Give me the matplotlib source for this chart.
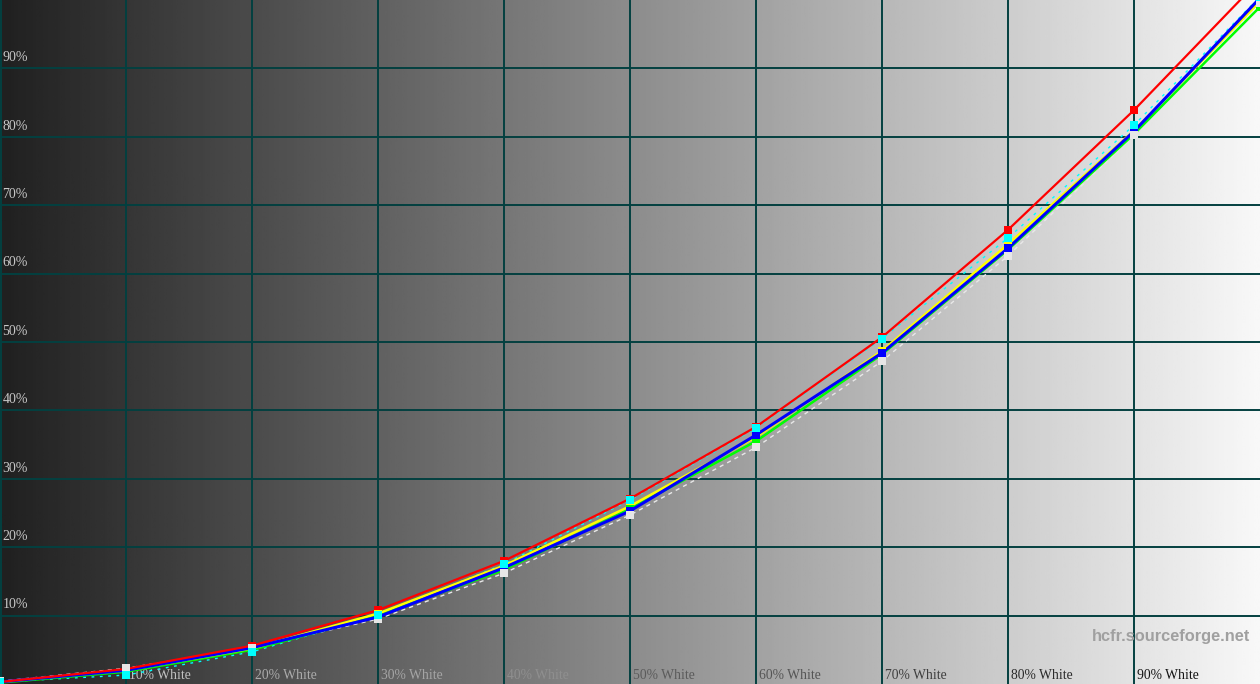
import numpy as np
import matplotlib
matplotlib.use("Agg")
import matplotlib.pyplot as plt

levels = [0, 10, 20, 30, 40, 50, 60, 70, 80, 90, 100]
x_labels = ["10% White", "20% White", "30% White", "40% White", "50% White",
            "60% White", "70% White", "80% White", "90% White"]
y_labels = ["10%", "20%", "30%", "40%", "50%", "60%", "70%", "80%", "90%"]

red    = [0.3, 2.2, 5.6, 10.8, 18.0, 27.1, 37.6, 50.7, 66.4, 83.9, 103.0]
yellow = [0.3, 2.0, 5.2, 10.3, 17.3, 26.0, 36.1, 48.7, 64.3, 80.9, 99.8]
green  = [0.2, 1.8, 5.0, 10.0, 16.7, 25.6, 35.5, 48.2, 63.5, 80.4, 99.0]
blue   = [0.3, 2.0, 5.3, 9.8, 17.0, 25.3, 36.4, 48.4, 63.7, 80.8, 100.3]
white  = [0.4, 2.3, 5.3, 9.5, 16.2, 24.7, 34.6, 47.2, 62.6, 80.2, 99.5]
cyan   = [0.3, 1.3, 4.7, 10.1, 17.5, 26.9, 37.4, 50.5, 65.2, 81.7, 100.5]

W, H, DPI = 1260, 684, 100
fig = plt.figure(figsize=(W / DPI, H / DPI), dpi=DPI)
ax = fig.add_axes([0, 0, 1, 1])
ax.set_xlim(0, 100)
ax.set_ylim(0, 100)
ax.axis("off")

# background gradient
grad = np.linspace(0x20 / 255, 0xf8 / 255, 512)[None, :]
ax.imshow(np.repeat(grad, 2, axis=0), cmap="gray", vmin=0, vmax=1,
          extent=[0, 100, 0, 100], aspect="auto", zorder=0)

grid_c = "#034040"
for v in range(10, 100, 10):
    ax.axvline(v, color=grid_c, lw=1.4, zorder=1)
    ax.axhline(v, color=grid_c, lw=1.4, zorder=1)
ax.axvline(0.05, color=grid_c, lw=1.4, zorder=1)

# y labels
for i, lab in enumerate(y_labels):
    v = (i + 1) * 10
    ax.text(0.2, v + 0.6, lab, color="#c8c8c8", fontsize=10,
            family="Liberation Serif", ha="left", va="bottom", zorder=2)

# x labels, colour inverse of background
for i, lab in enumerate(x_labels):
    v = (i + 1) * 10
    bg = 0x20 / 255 + (0xf8 - 0x20) / 255 * (v + 4) / 100
    c = 1 - bg
    c = c + 0.06 * (1 if c > 0.5 else -1) if abs(c - bg) < 0.2 else c
    c = min(max(c, 0), 1)
    ax.text(v + 0.2, 0.3, lab, color=(c, c, c), fontsize=9.8,
            family="Liberation Serif", ha="left", va="bottom", zorder=2)

ax.text(99.2, 7.0, "hcfr.sourceforge.net", color="#a0a0a0", fontsize=11.8,
        family="Liberation Sans", weight="bold", ha="right", va="center", zorder=2)

ms = 6.3
ax.plot(levels, white, color="#e8e8e8", lw=1.0, ls=(0, (3, 3)), zorder=3)
ax.plot(levels, cyan, color="#00ffff", lw=1.0, ls=(0, (2, 4)), zorder=3)
ax.plot(levels, green, color="#00ff00", lw=1.8, zorder=4)
ax.plot(levels, yellow, color="#ffff00", lw=1.8, zorder=4)
ax.plot(levels, blue, color="#0000ff", lw=2.2, zorder=5)
ax.plot(levels, red, color="#ff0000", lw=1.6, zorder=5)

ax.plot(levels, red, ls="none", marker="s", ms=ms, color="#ff0000", mew=0, zorder=6)
ax.plot(levels, yellow, ls="none", marker="s", ms=ms, color="#ffff00", mew=0, zorder=7)
ax.plot(levels, green, ls="none", marker="s", ms=ms, color="#00ff00", mew=0, zorder=8)
ax.plot(levels, blue, ls="none", marker="s", ms=ms, color="#0000ff", mew=0, zorder=9)
ax.plot(levels, white, ls="none", marker="s", ms=ms, color="#e6e6e6", mew=0, zorder=10)
ax.plot(levels, cyan, ls="none", marker="s", ms=ms, color="#00ffff", mew=0, zorder=11)

fig.savefig("out.png", dpi=DPI)
